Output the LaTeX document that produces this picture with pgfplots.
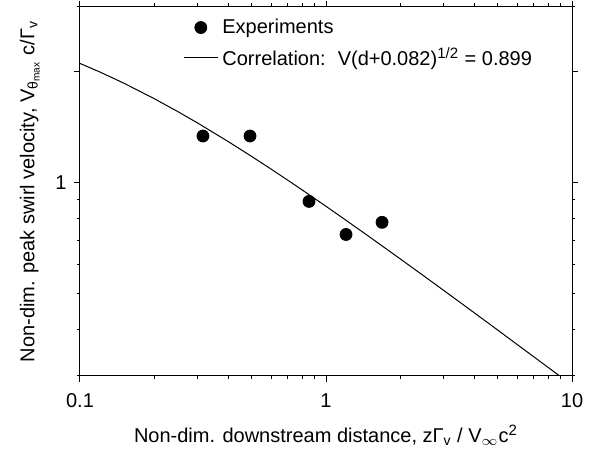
\documentclass[border=0pt]{standalone}
\usepackage{fontspec}
\setmainfont{Liberation Sans}
\usepackage{pgfplots}
\pgfplotsset{compat=1.18}
\newcommand{\sups}[1]{\textsuperscript{\fontsize{7.5}{8}\selectfont #1}}
\begin{document}
\begin{tikzpicture}
\begin{axis}[
  scale only axis,
  width=246pt, height=184.5pt,
  xmode=log, ymode=log,
  xmin=0.1, xmax=10, ymin=0.3, ymax=3,
  xtick={0.1,1,10}, xticklabels={0.1,1,10},
  ytick={1,2}, yticklabels={1,},
  minor xtick={0.2,0.3,0.4,0.5,0.6,0.7,0.8,0.9,2,3,4,5,6,7,8,9},
  minor ytick={0.3,0.4,0.5,0.6,0.7,0.8,0.9,3},
  tick align=outside,
  major tick length=3.2pt, minor tick length=1.7pt,
  tick style={black, line width=0.5pt},
  axis line style={line width=0.5pt},
  /pgf/number format/assume math mode=true,
  ticklabel style={font=\fontsize{10}{12}\selectfont},
  xticklabel style={yshift=-2pt},
  label style={font=\fontsize{10}{12}\selectfont},
  xlabel={Non-dim. downstream distance, zΓ\textsubscript{v} / V$_\infty$c\sups{2}},
  ylabel={Non-dim. peak swirl velocity, V\textsubscript{θ\textsubscript{max}} c/Γ\textsubscript{v}},
  xlabel style={yshift=-2pt},
  ylabel style={yshift=1pt},
  legend style={draw=none, fill=none, at={(0.205,0.985)}, anchor=north west,
    font=\fontsize{10}{12}\selectfont, row sep=1.5pt, inner sep=1pt},
  legend cell align=left,
  clip=true,
]
\addplot[only marks, mark=*, mark size=3pt, black] coordinates {
  (0.316,1.34) (0.491,1.34) (0.853,0.891) (1.206,0.725) (1.69,0.782)
};
\addlegendentry{Experiments}
\addplot[black, line width=0.5pt, mark=none] coordinates {
  (0.1,2.1073) (0.12,2.0003) (0.15,1.8665) (0.2,1.6929) (0.25,1.5602)
  (0.3,1.4546) (0.4,1.2949) (0.5,1.1784) (0.6,1.0886) (0.7,1.0166)
  (0.8,0.9572) (1.0,0.8643) (1.2,0.7940) (1.5,0.7148) (2,0.6230)
  (2.5,0.5595) (3,0.5121) (4,0.4450) (5,0.3988) (6,0.3645)
  (7,0.3378) (8,0.3162) (9,0.2983)
};
\addlegendentry{Correlation:\hspace{6pt}V(d+0.082)\sups{1/2} = 0.899}
\end{axis}
\path ([xshift=-40pt,yshift=-37.5pt]current axis.south west) rectangle ([xshift=12.5pt,yshift=2.5pt]current axis.north east);
\end{tikzpicture}
\end{document}
